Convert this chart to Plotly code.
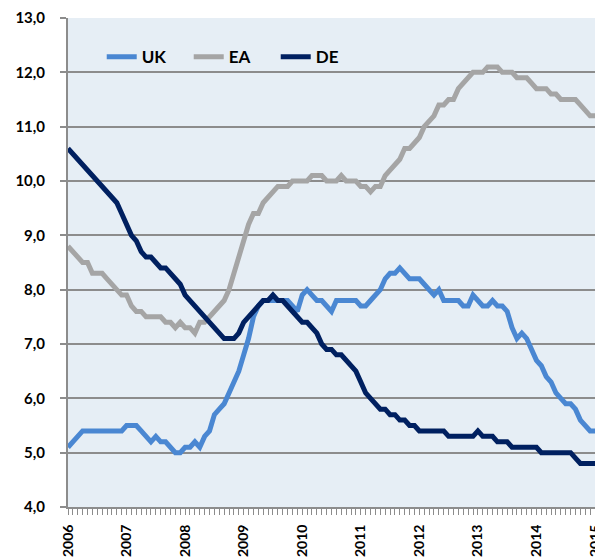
import plotly.graph_objects as go

years = ["2006", "2007", "2008", "2009", "2010", "2011", "2012", "2013", "2014", "2015"]

uk = [5.1, 5.2, 5.3, 5.4, 5.4, 5.4, 5.4, 5.4, 5.4, 5.4, 5.4, 5.4,
      5.5, 5.5, 5.5, 5.4, 5.3, 5.2, 5.3, 5.2, 5.2, 5.1, 5.0, 5.0,
      5.1, 5.1, 5.2, 5.1, 5.3, 5.4, 5.7, 5.8, 5.9, 6.1, 6.3, 6.5,
      6.8, 7.1, 7.5, 7.7, 7.8, 7.8, 7.8, 7.8, 7.8, 7.8, 7.7, 7.6,
      7.9, 8.0, 7.9, 7.8, 7.8, 7.7, 7.6, 7.8, 7.8, 7.8, 7.8, 7.8,
      7.7, 7.7, 7.8, 7.9, 8.0, 8.2, 8.3, 8.3, 8.4, 8.3, 8.2, 8.2,
      8.2, 8.1, 8.0, 7.9, 8.0, 7.8, 7.8, 7.8, 7.8, 7.7, 7.7, 7.9,
      7.8, 7.7, 7.7, 7.8, 7.7, 7.7, 7.6, 7.3, 7.1, 7.2, 7.1, 6.9,
      6.7, 6.6, 6.4, 6.3, 6.1, 6.0, 5.9, 5.9, 5.8, 5.6, 5.5, 5.4,
      5.4]

ea = [8.8, 8.7, 8.6, 8.5, 8.5, 8.3, 8.3, 8.3, 8.2, 8.1, 8.0, 7.9,
      7.9, 7.7, 7.6, 7.6, 7.5, 7.5, 7.5, 7.5, 7.4, 7.4, 7.3, 7.4,
      7.3, 7.3, 7.2, 7.4, 7.4, 7.5, 7.6, 7.7, 7.8, 8.0, 8.3, 8.6,
      8.9, 9.2, 9.4, 9.4, 9.6, 9.7, 9.8, 9.9, 9.9, 9.9, 10.0, 10.0,
      10.0, 10.0, 10.1, 10.1, 10.1, 10.0, 10.0, 10.0, 10.1, 10.0, 10.0, 10.0,
      9.9, 9.9, 9.8, 9.9, 9.9, 10.1, 10.2, 10.3, 10.4, 10.6, 10.6, 10.7,
      10.8, 11.0, 11.1, 11.2, 11.4, 11.4, 11.5, 11.5, 11.7, 11.8, 11.9, 12.0,
      12.0, 12.0, 12.1, 12.1, 12.1, 12.0, 12.0, 12.0, 11.9, 11.9, 11.9, 11.8,
      11.7, 11.7, 11.7, 11.6, 11.6, 11.5, 11.5, 11.5, 11.5, 11.4, 11.3, 11.2,
      11.2]

de = [10.6, 10.5, 10.4, 10.3, 10.2, 10.1, 10.0, 9.9, 9.8, 9.7, 9.6, 9.4,
      9.2, 9.0, 8.9, 8.7, 8.6, 8.6, 8.5, 8.4, 8.4, 8.3, 8.2, 8.1,
      7.9, 7.8, 7.7, 7.6, 7.5, 7.4, 7.3, 7.2, 7.1, 7.1, 7.1, 7.2,
      7.4, 7.5, 7.6, 7.7, 7.8, 7.8, 7.9, 7.8, 7.8, 7.7, 7.6, 7.5,
      7.4, 7.4, 7.3, 7.2, 7.0, 6.9, 6.9, 6.8, 6.8, 6.7, 6.6, 6.5,
      6.3, 6.1, 6.0, 5.9, 5.8, 5.8, 5.7, 5.7, 5.6, 5.6, 5.5, 5.5,
      5.4, 5.4, 5.4, 5.4, 5.4, 5.4, 5.3, 5.3, 5.3, 5.3, 5.3, 5.3,
      5.4, 5.3, 5.3, 5.3, 5.2, 5.2, 5.2, 5.1, 5.1, 5.1, 5.1, 5.1,
      5.1, 5.0, 5.0, 5.0, 5.0, 5.0, 5.0, 5.0, 4.9, 4.8, 4.8, 4.8,
      4.8]

series_names = ["UK", "EA", "DE"]
series_colors = ["#4a87d2", "#a5a5a5", "#002060"]

x = list(range(len(uk)))
tickvals = [i * 12 for i in range(len(years))]

FONT = "Lato, 'Open Sans', sans-serif"
GRID = "#8c8c8c"

fig = go.Figure()
for name, vals, col in zip(series_names, [uk, ea, de], series_colors):
    fig.add_trace(go.Scatter(
        x=x, y=vals, name=name, mode="lines",
        line=dict(color=col, width=5),
        cliponaxis=False,
    ))

# page body has an 8px margin, so the figure is sized/offset to compensate
fig.update_layout(
    width=595, height=550,
    margin=dict(l=60, r=8, t=10, b=51),
    paper_bgcolor="white",
    plot_bgcolor="#e6eef5",
    separators=", ",
    font=dict(family=FONT, size=15, color="black", weight="bold"),
    showlegend=True,
    legend=dict(
        orientation="h",
        x=0.064, xanchor="left",
        y=0.92, yanchor="middle",
        bgcolor="rgba(0,0,0,0)",
        font=dict(family=FONT, size=17, color="black", weight="bold"),
        entrywidth=42,
        traceorder="normal",
    ),
    xaxis=dict(
        range=[0, 108],
        tickmode="array",
        tickvals=tickvals,
        ticktext=years,
        tickangle=-90,
        ticks="outside", ticklen=6, tickwidth=1, tickcolor=GRID,
        minor=dict(dtick=1, tick0=0, ticks="outside", ticklen=6, tickwidth=1,
                   tickcolor=GRID, showgrid=False),
        showgrid=False,
        showline=True, linecolor=GRID, linewidth=2,
        zeroline=False,
        automargin=False,
        tickfont=dict(family=FONT, size=14, color="black", weight="bold"),
        ticklabelstandoff=4,
    ),
    yaxis=dict(
        range=[4, 13],
        tick0=4, dtick=1,
        tickformat=".1f",
        ticks="outside", ticklen=6, tickwidth=1.5, tickcolor=GRID,
        showgrid=True, gridcolor=GRID, gridwidth=1.5,
        showline=True, linecolor=GRID, linewidth=2,
        zeroline=False,
        automargin=False,
        tickfont=dict(family=FONT, size=15, color="black", weight="bold"),
        ticklabelstandoff=12,
    ),
)

fig.write_html("out.html")
